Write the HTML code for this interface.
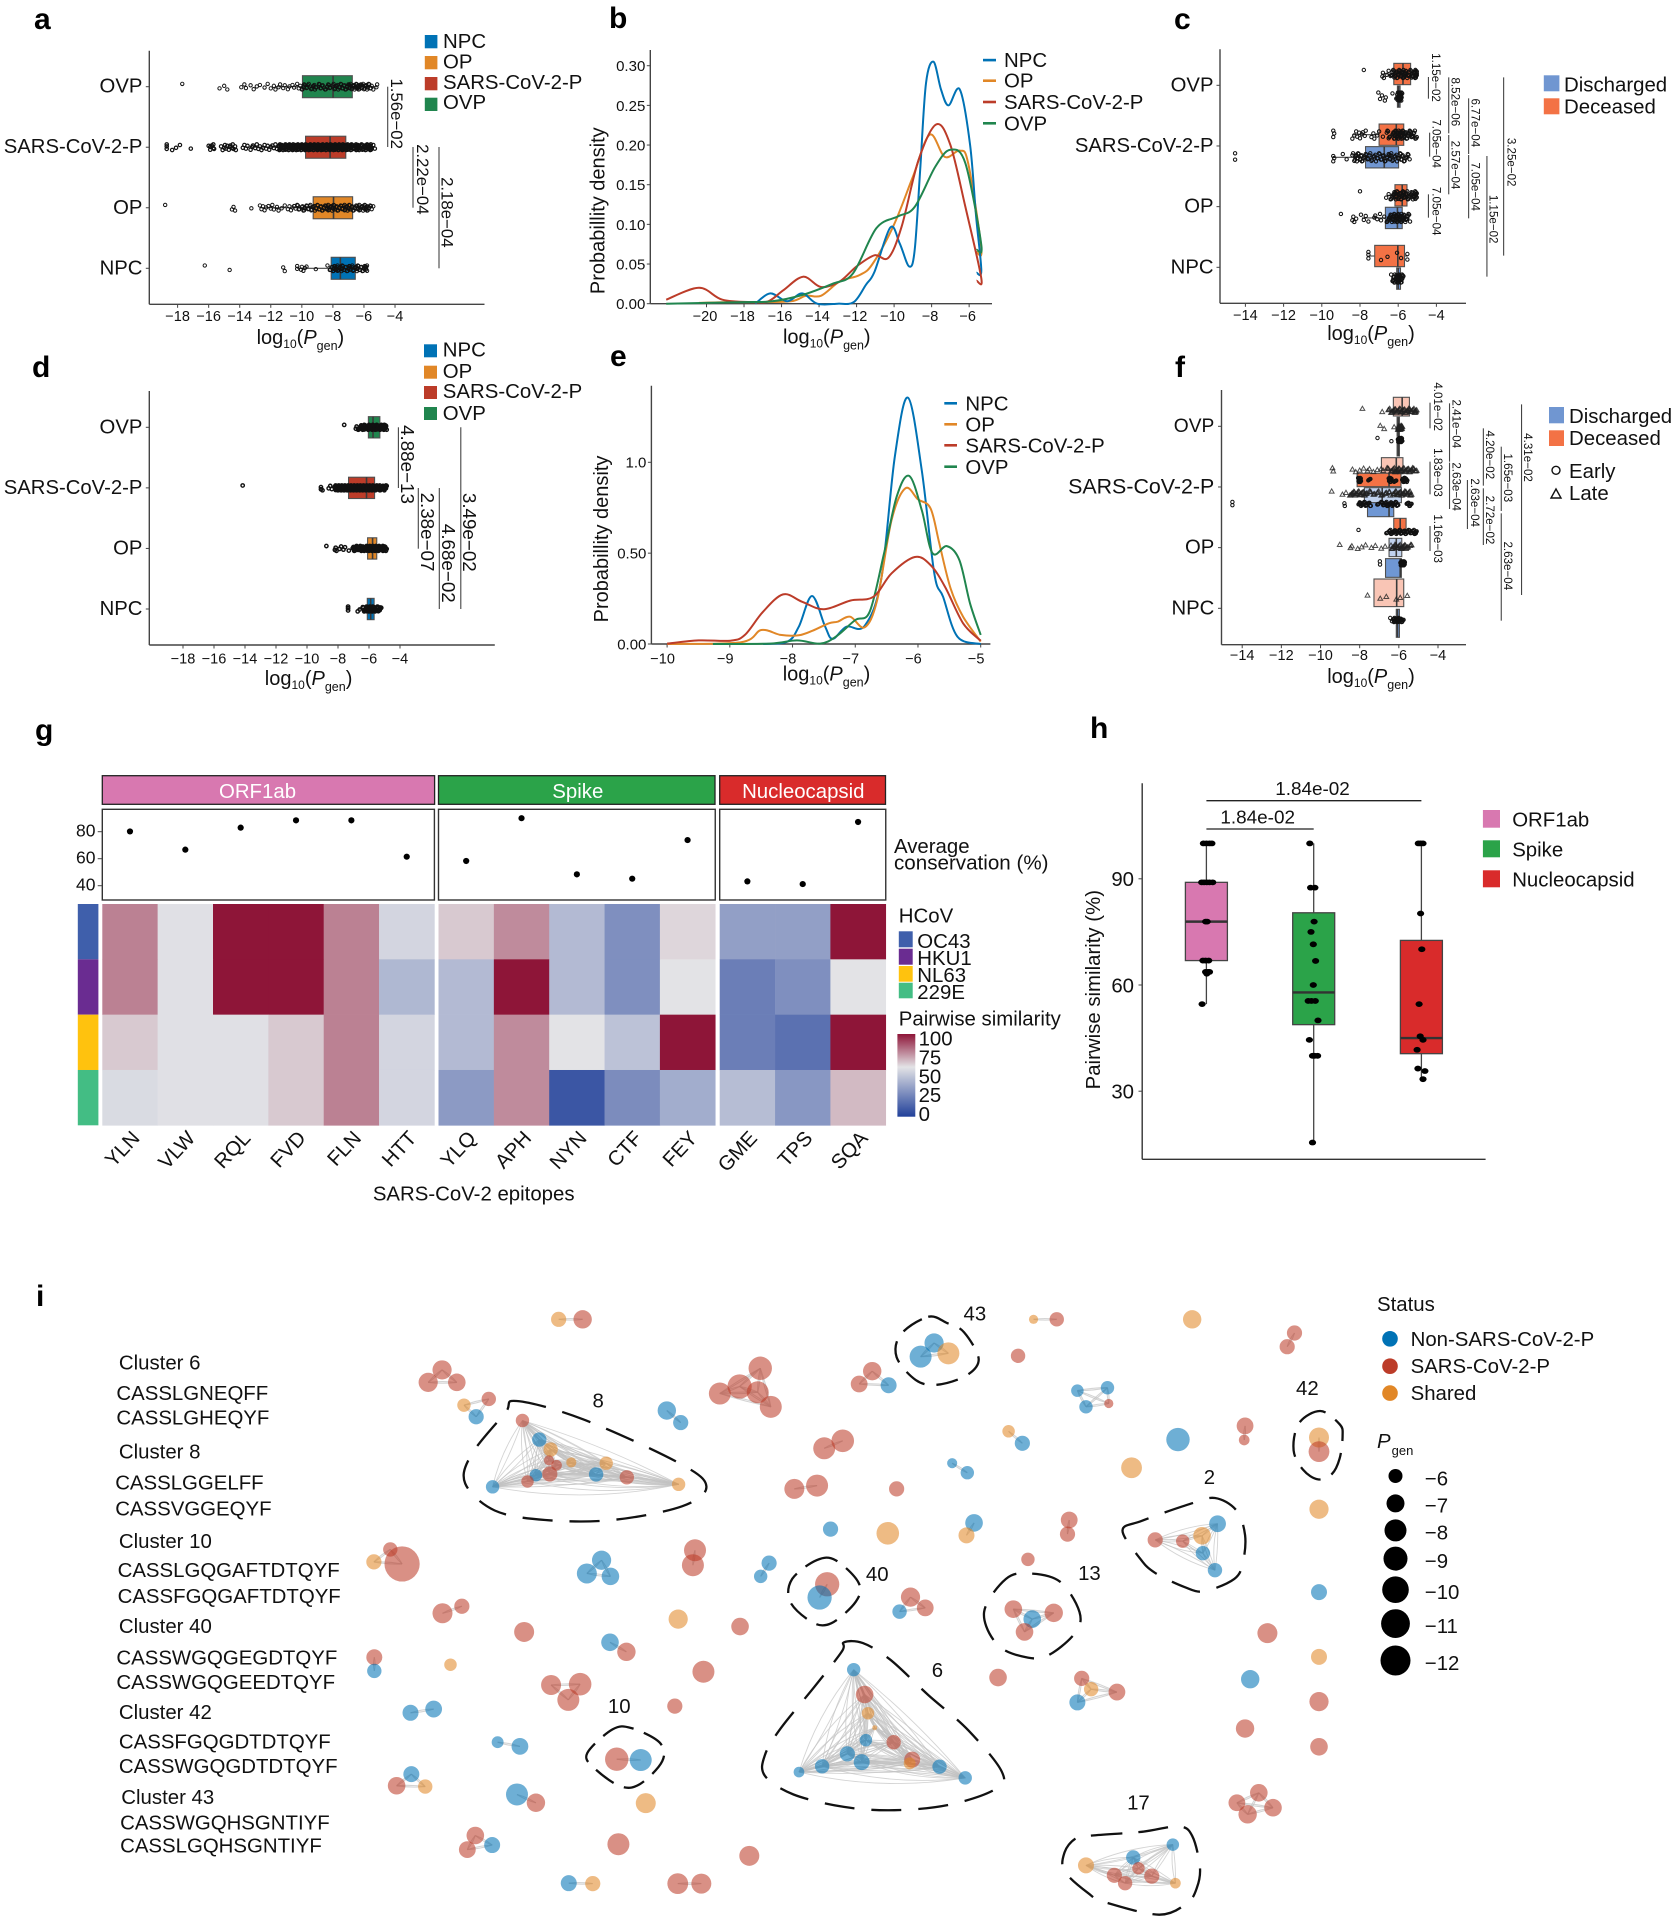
<!DOCTYPE html>
<html lang="en">
<head>
<meta charset="utf-8">
<title>TCR generation probability figure</title>
<style>
html,body{margin:0;padding:0;background:#fff}
svg{display:block}
text{font-family:"Liberation Sans",sans-serif;fill:#111}
.letter{font-size:30px;font-weight:bold;fill:#000}
.t20{font-size:20.4px}
.tt{font-size:20px}
.white{fill:#fff}
</style>
</head>
<body>
<svg id="fig" width="1674" height="1920" viewBox="0 0 1674 1920">
<rect x="0" y="0" width="1674" height="1920" fill="#fff"/>
<defs>
<linearGradient id="simGrad" x1="0" y1="1" x2="0" y2="0">
<stop offset="0" stop-color="#21409a"/><stop offset="0.6" stop-color="#e3e3e6"/><stop offset="1" stop-color="#8e1538"/>
</linearGradient>
</defs>

<text class="letter" x="34" y="29">a</text>
<text class="letter" x="609" y="28">b</text>
<text class="letter" x="1174" y="29">c</text>
<text class="letter" x="32" y="377">d</text>
<text class="letter" x="610" y="366">e</text>
<text class="letter" x="1175" y="377">f</text>
<text class="letter" x="35" y="740">g</text>
<text class="letter" x="1090" y="738">h</text>
<text class="letter" x="36" y="1306">i</text>

<!-- legend a -->
<g>
<rect x="424.8" y="35" width="12.6" height="13.3" fill="#0072b5"/>
<rect x="424.8" y="56" width="12.6" height="13.3" fill="#e18727"/>
<rect x="424.8" y="77" width="12.6" height="13.3" fill="#bc3c29"/>
<rect x="424.8" y="97.7" width="12.6" height="13.3" fill="#20854e"/>
<text class="t20" x="443" y="48">NPC</text>
<text class="t20" x="443" y="68.5">OP</text>
<text class="t20" x="443" y="89">SARS-CoV-2-P</text>
<text class="t20" x="443" y="109">OVP</text>
</g>
<text class="tt" x="300.4" y="344" text-anchor="middle">log<tspan font-size="12" dy="4">10</tspan><tspan dy="-4">(</tspan><tspan font-style="italic">P</tspan><tspan font-size="12.5" dy="6">gen</tspan><tspan dy="-6">)</tspan></text>

<!-- legend d -->
<g>
<rect x="424" y="344.3" width="13" height="13" fill="#0072b5"/>
<rect x="424" y="365.7" width="13" height="13" fill="#e18727"/>
<rect x="424" y="386" width="13" height="13" fill="#bc3c29"/>
<rect x="424" y="407" width="13" height="13" fill="#20854e"/>
<text class="t20" x="442.8" y="356.5">NPC</text>
<text class="t20" x="442.8" y="378">OP</text>
<text class="t20" x="442.8" y="398">SARS-CoV-2-P</text>
<text class="t20" x="442.8" y="420">OVP</text>
</g>
<text class="tt" x="308.6" y="685" text-anchor="middle">log<tspan font-size="12" dy="4">10</tspan><tspan dy="-4">(</tspan><tspan font-style="italic">P</tspan><tspan font-size="12.5" dy="6">gen</tspan><tspan dy="-6">)</tspan></text>

<!-- legend b -->
<g>
<rect x="983" y="58.8" width="13" height="2.6" fill="#0072b5"/>
<rect x="983" y="79.4" width="13" height="2.6" fill="#e18727"/>
<rect x="983" y="100.7" width="13" height="2.6" fill="#bc3c29"/>
<rect x="983" y="122" width="13" height="2.6" fill="#20854e"/>
<text class="t20" x="1004" y="67">NPC</text>
<text class="t20" x="1004" y="87.7">OP</text>
<text class="t20" x="1004" y="109">SARS-CoV-2-P</text>
<text class="t20" x="1004" y="130.3">OVP</text>
</g>
<text class="tt" transform="translate(604.5,210.7) rotate(-90)" text-anchor="middle">Probabillity density</text>
<text class="tt" x="826.8" y="343.3" text-anchor="middle">log<tspan font-size="12" dy="4">10</tspan><tspan dy="-4">(</tspan><tspan font-style="italic">P</tspan><tspan font-size="12.5" dy="6">gen</tspan><tspan dy="-6">)</tspan></text>

<!-- legend e -->
<g>
<rect x="944.3" y="402" width="12.7" height="2.6" fill="#0072b5"/>
<rect x="944.3" y="423" width="12.7" height="2.6" fill="#e18727"/>
<rect x="944.3" y="444" width="12.7" height="2.6" fill="#bc3c29"/>
<rect x="944.3" y="465.4" width="12.7" height="2.6" fill="#20854e"/>
<text class="t20" x="965.4" y="410.5">NPC</text>
<text class="t20" x="965.4" y="431.5">OP</text>
<text class="t20" x="965.4" y="452.5">SARS-CoV-2-P</text>
<text class="t20" x="965.4" y="474">OVP</text>
</g>
<text class="tt" transform="translate(608,539) rotate(-90)" text-anchor="middle">Probabillity density</text>
<text class="tt" x="826.5" y="680.7" text-anchor="middle">log<tspan font-size="12" dy="4">10</tspan><tspan dy="-4">(</tspan><tspan font-style="italic">P</tspan><tspan font-size="12.5" dy="6">gen</tspan><tspan dy="-6">)</tspan></text>

<!-- legend c -->
<g>
<rect x="1543.8" y="75.3" width="15.6" height="16" fill="#7096d1"/>
<rect x="1543.8" y="98.3" width="15.6" height="16" fill="#f37245"/>
<text class="t20" x="1564" y="91.5">Discharged</text>
<text class="t20" x="1564" y="113.7">Deceased</text>
</g>
<text class="tt" x="1371" y="340" text-anchor="middle">log<tspan font-size="12" dy="4">10</tspan><tspan dy="-4">(</tspan><tspan font-style="italic">P</tspan><tspan font-size="12.5" dy="6">gen</tspan><tspan dy="-6">)</tspan></text>

<!-- legend f -->
<g>
<rect x="1549" y="407" width="15" height="16.3" fill="#7096d1"/>
<rect x="1549" y="430.3" width="15" height="15.7" fill="#f37245"/>
<text class="t20" x="1569" y="423">Discharged</text>
<text class="t20" x="1569" y="445">Deceased</text>
<circle cx="1556" cy="470.3" r="4" fill="none" stroke="#111" stroke-width="1.4"/>
<polygon points="1556,489 1561,498 1551,498" fill="none" stroke="#111" stroke-width="1.4"/>
<text class="t20" x="1569" y="478">Early</text>
<text class="t20" x="1569" y="500">Late</text>
</g>
<text class="tt" x="1371" y="683" text-anchor="middle">log<tspan font-size="12" dy="4">10</tspan><tspan dy="-4">(</tspan><tspan font-style="italic">P</tspan><tspan font-size="12.5" dy="6">gen</tspan><tspan dy="-6">)</tspan></text>

<!-- panel g static -->
<g>
<rect x="102.3" y="775.7" width="332.3" height="28.6" fill="#d878b0" stroke="#222" stroke-width="1.3"/>
<rect x="438.5" y="775.7" width="276.5" height="28.6" fill="#2ba349" stroke="#222" stroke-width="1.3"/>
<rect x="719.7" y="775.7" width="165.8" height="28.6" fill="#d92b2b" stroke="#222" stroke-width="1.3"/>
<text class="t20 white" x="257.5" y="798" text-anchor="middle">ORF1ab</text>
<text class="t20 white" x="577.8" y="798" text-anchor="middle">Spike</text>
<text class="t20 white" x="803.3" y="798" text-anchor="middle">Nucleocapsid</text>
</g>
<text class="t20" x="894" y="853">Average</text>
<text class="t20" x="894" y="869.7" style="font-size:20.6px">conservation (%)</text>
<text class="t20" x="898.8" y="922.7">HCoV</text>
<g>
<rect x="898.8" y="931.3" width="13.9" height="16" fill="#3f5fab"/>
<rect x="898.8" y="948.7" width="13.9" height="16" fill="#6a2c91"/>
<rect x="898.8" y="966" width="13.9" height="15.7" fill="#ffc20e"/>
<rect x="898.8" y="982.7" width="13.9" height="15.6" fill="#43bd84"/>
<text class="t20" x="917.3" y="948">OC43</text>
<text class="t20" x="917.3" y="965">HKU1</text>
<text class="t20" x="917.3" y="982">NL63</text>
<text class="t20" x="917.3" y="999">229E</text>
</g>
<text class="t20" x="898.8" y="1025.3">Pairwise similarity</text>
<rect x="897.4" y="1034" width="17.9" height="82.7" fill="url(#simGrad)"/>
<g>
<text class="t20" x="918.6" y="1045.3">100</text>
<text class="t20" x="918.6" y="1064.7">75</text>
<text class="t20" x="918.6" y="1083.7">50</text>
<text class="t20" x="918.6" y="1102">25</text>
<text class="t20" x="918.6" y="1121">0</text>
</g>
<text class="t20" x="473.7" y="1200.3" text-anchor="middle">SARS-CoV-2 epitopes</text>

<!-- panel h static -->
<g>
<rect x="1482.9" y="810" width="17.1" height="17.7" fill="#d878b0"/>
<rect x="1482.9" y="840.3" width="17.1" height="17" fill="#2ba349"/>
<rect x="1482.9" y="870.3" width="17.1" height="17" fill="#d92b2b"/>
<text class="t20" x="1512.2" y="826.3">ORF1ab</text>
<text class="t20" x="1512.2" y="856.3">Spike</text>
<text class="t20" x="1512.2" y="886.3">Nucleocapsid</text>
</g>
<text class="t20" transform="translate(1100,989.7) rotate(-90)" text-anchor="middle">Pairwise similarity (%)</text>

<!-- panel i sequences -->
<g>
<text class="t20" x="118.9" y="1369.5">Cluster 6</text>
<text class="t20" x="116.4" y="1400.2">CASSLGNEQFF</text>
<text class="t20" x="116.4" y="1424.7">CASSLGHEQYF</text>
<text class="t20" x="118.9" y="1458.3">Cluster 8</text>
<text class="t20" x="115.2" y="1489.7">CASSLGGELFF</text>
<text class="t20" x="115.2" y="1515.4">CASSVGGEQYF</text>
<text class="t20" x="118.9" y="1547.8">Cluster 10</text>
<text class="t20" x="117.6" y="1577.2">CASSLGQGAFTDTQYF</text>
<text class="t20" x="117.6" y="1603">CASSFGQGAFTDTQYF</text>
<text class="t20" x="118.9" y="1633.1">Cluster 40</text>
<text class="t20" x="116.4" y="1664.3">CASSWGQGEGDTQYF</text>
<text class="t20" x="116.4" y="1688.8">CASSWGQGEEDTQYF</text>
<text class="t20" x="118.9" y="1719">Cluster 42</text>
<text class="t20" x="118.9" y="1748.4">CASSFGQGDTDTQYF</text>
<text class="t20" x="118.9" y="1773">CASSWGQGDTDTQYF</text>
<text class="t20" x="121.3" y="1804">Cluster 43</text>
<text class="t20" x="120.1" y="1829.3">CASSWGQHSGNTIYF</text>
<text class="t20" x="120.1" y="1852.6">CASSLGQHSGNTIYF</text>
</g>

<!-- panel i status legend -->
<g>
<text class="t20" x="1377" y="1311">Status</text>
<circle cx="1390" cy="1338.8" r="7.8" fill="#0072b5"/>
<circle cx="1390" cy="1366.2" r="7.8" fill="#bc3c29"/>
<circle cx="1390" cy="1393.1" r="7.8" fill="#e18727"/>
<text class="t20" x="1410.6" y="1345.8">Non-SARS-CoV-2-P</text>
<text class="t20" x="1410.6" y="1373.2">SARS-CoV-2-P</text>
<text class="t20" x="1410.6" y="1400.1">Shared</text>
<text class="t20" x="1377" y="1448"><tspan font-style="italic">P</tspan><tspan font-size="13" dx="1" dy="7">gen</tspan></text>
</g>

<script>
/* ---------- panel a data ---------- */
const stripCategories = ['OVP','SARS-CoV-2-P','OP','NPC'];
const wideTicks = [-18,-16,-14,-12,-10,-8,-6,-4];
const aQ1 = [-9.96,-9.76,-9.27,-8.11];
const aMedian = [-7.99,-8.18,-7.96,-7.52];
const aQ3 = [-6.75,-7.17,-6.73,-6.56];
const aLow = [-11.7,-13.6,-12.7,-10.3];
const aHigh = [-5.15,-5.3,-5.4,-5.8];
const aPValues = ['1.56e−02','2.22e−04','2.18e−04'];
const aOVP = [-17.7,-15.3,-15,-14.8,-13.9,-13.7,-13.6,-13.3,-13.1,-12.9,-12.7,-12.4,-12.2,-12,-11.8,-11.7,-11.5,-11.4,-11.2,-11.1,-10.9,-10.8,-10.6,-10.5,-10.3,-10.2,-10.1,-10,-9.9,-9.85,-9.7,-9.6,-9.4,-9.3,-9.2,-9.1,-8.9,-8.8,-8.7,-8.5,-8.4,-8.3,-8.2,-8,-7.9,-7.8,-7.7,-7.6,-7.5,-7.4,-7.3,-7.2,-7.1,-7,-6.95,-6.9,-6.8,-6.7,-6.65,-6.6,-6.5,-6.45,-6.4,-6.35,-6.3,-6.2,-6.15,-6.1,-6,-5.9,-5.85,-5.8,-5.7,-5.6,-5.5,-5.4,-5.2,-5.15];
const aSARS = [-18.7,-18.7,-18.7,-18.35,-18.1,-17.85,-17.15,-16,-15.9,-15.9,-15.8,-15.7,-15.7,-15.65,-15.2,-15.1,-15,-14.95,-14.9,-14.8,-14.7,-14.65,-14.6,-14.5,-14.45,-14.4,-14.3,-14.25,-13.8,-13.7,-13.6,-13.5,-13.3,-13.2,-13.15,-13,-12.9,-12.8,-12.7,-12.6,-12.5,-12.4,-12.3,-12.2,-12.1,-12,-11.9,-11.8,-11.7,-11.6,-11.5,-11.45,-11.4,-11.3,-11.2,-11.1,-11.05,-11,-10.9,-10.85,-10.8,-10.7,-10.65,-10.6,-10.5,-10.45,-10.4,-10.3,-10.25,-10.2,-10.1,-10.05,-10,-9.9,-9.85,-9.8,-9.7,-9.65,-9.6,-9.5,-9.45,-9.4,-9.3,-9.25,-9.2,-9.1,-9.05,-9,-8.9,-8.85,-8.8,-8.7,-8.65,-8.6,-8.5,-8.45,-8.4,-8.3,-8.25,-8.2,-8.1,-8.05,-8,-7.9,-7.85,-7.8,-7.7,-7.65,-7.6,-7.5,-7.45,-7.4,-7.3,-7.25,-7.2,-7.1,-7.05,-7,-6.9,-6.85,-6.8,-6.7,-6.6,-6.5,-6.45,-6.4,-6.3,-6.2,-6.1,-6,-5.95,-5.9,-5.8,-5.7,-5.65,-5.6,-5.5,-5.4,-5.3];
const aOP = [-18.8,-14.5,-14.4,-14.3,-13.25,-12.7,-12.6,-12.5,-12.4,-12.3,-12.15,-12,-11.9,-11.8,-11.6,-11.5,-11.3,-11.1,-10.9,-10.8,-10.7,-10.6,-10.5,-10.4,-10.3,-10.2,-10,-9.9,-9.85,-9.7,-9.6,-9.5,-9.4,-9.3,-9.2,-9.1,-9,-8.9,-8.8,-8.7,-8.6,-8.5,-8.4,-8.35,-8.3,-8.2,-8.1,-8,-7.95,-7.9,-7.8,-7.7,-7.6,-7.5,-7.4,-7.3,-7.25,-7.2,-7.1,-7,-6.95,-6.9,-6.8,-6.7,-6.6,-6.5,-6.4,-6.35,-6.3,-6.2,-6.1,-6,-5.95,-5.9,-5.85,-5.8,-5.7,-5.6,-5.5,-5.4];
const aNPC = [-16.25,-14.65,-11.2,-11.1,-10.3,-10.3,-10.05,-10,-9.9,-9.8,-9.7,-9.1,-8.35,-8.2,-8.1,-8,-7.95,-7.9,-7.8,-7.75,-7.7,-7.6,-7.5,-7.45,-7.4,-7.3,-7.2,-7.1,-7,-6.95,-6.9,-6.8,-6.7,-6.6,-6.5,-6.45,-6.4,-6.3,-6.2,-6.1,-6,-5.95,-5.9,-5.85,-5.8];

/* ---------- panel d data ---------- */
const dQ1 = [-6.04,-7.32,-6.09,-6.11];
const dMedian = [-5.74,-6.16,-5.77,-5.89];
const dQ3 = [-5.3,-5.64,-5.5,-5.67];
const dLow = [-6.85,-8.2,-7,-6.7];
const dHigh = [-4.93,-4.93,-4.93,-5.25];
const dPValues = ['4.88e−13','2.38e−07','4.68e−02','3.49e−02'];
const dOVP = [-7.6,-6.85,-6.8,-6.7,-6.6,-6.5,-6.4,-6.35,-6.3,-6.2,-6.1,-6.05,-6,-5.9,-5.85,-5.8,-5.75,-5.7,-5.6,-5.55,-5.5,-5.4,-5.35,-5.3,-5.2,-5.15,-5.1,-5.05,-5,-4.95];
const dSARS = [-14.15,-9.1,-9.1,-9,-8.6,-8.5,-8.4,-8.2,-8.15,-8.1,-8.05,-8,-7.95,-7.9,-7.85,-7.8,-7.75,-7.7,-7.65,-7.6,-7.55,-7.5,-7.45,-7.4,-7.35,-7.3,-7.25,-7.2,-7.15,-7.1,-7.05,-7,-6.95,-6.9,-6.85,-6.8,-6.75,-6.7,-6.65,-6.6,-6.55,-6.5,-6.45,-6.4,-6.35,-6.3,-6.25,-6.2,-6.15,-6.1,-6.05,-6,-5.95,-5.9,-5.85,-5.8,-5.75,-5.7,-5.65,-5.6,-5.5,-5.45,-5.4,-5.3,-5.2,-5.1,-5,-4.95];
const dOP = [-8.75,-8.2,-8.15,-8.1,-7.9,-7.8,-7.65,-7.55,-7.3,-7.05,-7,-6.95,-6.8,-6.7,-6.65,-6.5,-6.45,-6.4,-6.3,-6.2,-6.15,-6.1,-6.05,-6,-5.95,-5.9,-5.85,-5.8,-5.75,-5.7,-5.65,-5.6,-5.55,-5.5,-5.45,-5.4,-5.35,-5.3,-5.2,-5.1,-5.05,-5,-4.95];
const dNPC = [-7.35,-7.35,-7.35,-6.73,-6.6,-6.4,-6.3,-6.2,-6.15,-6.1,-6.05,-6,-5.95,-5.9,-5.85,-5.8,-5.75,-5.7,-5.6,-5.5,-5.4,-5.3,-5.25];

/* ---------- panel c data (deceased, discharged per category) ---------- */
const cTicks = [-14,-12,-10,-8,-6,-4];
const cDecQ1 = [-6.23,-7,-6.17,-7.23];
const cDecMedian = [-5.75,-6.1,-5.79,-6.02];
const cDecQ3 = [-5.35,-5.71,-5.54,-5.67];
const cDecLow = [-6.85,-8.4,-6.6,-7.56];
const cDecHigh = [-5.1,-5.1,-5.1,-5.5];
const cDisQ1 = [-6.04,-7.71,-6.67,-6.08];
const cDisMedian = [-5.98,-6.73,-6.04,-6];
const cDisQ3 = [-5.9,-5.98,-5.79,-5.88];
const cDisLow = [-6.1,-9.4,-7.9,-6.37];
const cDisHigh = [-5.9,-5.4,-5.4,-5.8];
const cPValues = ['1.15e−02','8.52e−06','6.77e−04','2.57e−04','7.05e−04','7.05e−04','7.05e−04','1.15e−02','3.25e−02'];
const cDecOVP = [-7.8,-6.83,-6.8,-6.75,-6.6,-6.5,-6.4,-6.3,-6.2,-6.15,-6.1,-6,-5.95,-5.9,-5.8,-5.75,-5.7,-5.6,-5.5,-5.4,-5.3,-5.2,-5.15,-5.1,-5.1,-5.1];
const cDisOVP = [-7.04,-6.95,-6.85,-6.7,-6.65,-6.3,-6.1,-6.05,-6.02,-6,-5.98,-5.96,-5.95,-5.93,-5.9];
const cDecSARS = [-9.4,-9.4,-9.35,-8.4,-8.3,-8.2,-8.15,-8.05,-8,-7.9,-7.85,-7.75,-7.7,-7.4,-7.3,-7.25,-7.1,-7,-6.8,-6.6,-6.5,-6.3,-6.25,-6.2,-6.15,-6.1,-6.05,-6,-5.95,-5.9,-5.85,-5.8,-5.75,-5.7,-5.6,-5.5,-5.4,-5.3,-5.2,-5.1];
const cDisSARS = [-14.54,-14.54,-9.4,-9.4,-9.35,-8.9,-8.7,-8.4,-8.3,-8.25,-8.2,-8.15,-8.1,-8,-7.95,-7.9,-7.8,-7.7,-7.6,-7.5,-7.4,-7.3,-7.2,-7.1,-7,-6.9,-6.8,-6.7,-6.6,-6.5,-6.45,-6.4,-6.3,-6.2,-6.1,-6,-5.9,-5.85,-5.8,-5.7,-5.6,-5.5,-5.4];
const cDecOP = [-8,-6.63,-6.5,-6.4,-6.3,-6.2,-6.15,-6.1,-6,-5.95,-5.9,-5.8,-5.75,-5.7,-5.6,-5.5,-5.4,-5.3,-5.2,-5.15,-5.1,-5.1];
const cDisOP = [-9,-8.4,-8.35,-8.3,-8.2,-7.95,-7.8,-7.7,-7.56,-7.25,-7.2,-7.1,-6.95,-6.9,-6.73,-6.6,-6.5,-6.4,-6.3,-6.25,-6.2,-6.15,-6.1,-6.05,-6,-5.95,-5.9,-5.85,-5.8,-5.7,-5.6,-5.5,-5.38];
const cDecNPC = [-7.56,-7.56,-7.56,-6.9,-6.56,-6.06,-5.85,-5.52,-5.52];
const cDisNPC = [-6.37,-6.3,-6.25,-6.2,-6.15,-6.1,-6.05,-6,-5.98,-5.95,-5.9,-5.85,-5.8];

/* ---------- panel f data ---------- */
const fQ1 = [-6.28,-6.09,-6.09,-6.89,-8.13,-7.76,-7.6,-6.26,-6.5,-6.68,-7.27,-6.13];
const fMedian = [-5.83,-6.03,-6.03,-6.13,-6.5,-6.85,-6.5,-5.93,-6.13,-5.93,-6.11,-6.07];
const fQ3 = [-5.46,-5.97,-5.97,-5.79,-5.89,-5.87,-6.26,-5.63,-5.85,-5.87,-5.75,-5.97];
const fPValues = ['4.01e−02','2.41e−04','2.63e−04','1.83e−03','1.16e−03','2.63e−04','4.20e−02','2.72e−02','1.65e−03','2.63e−04','4.31e−02'];
const fOVPDecLate = [-7.86,-6.85,-6.54,-6.4,-6.3,-6.2,-6.1,-6,-5.9,-5.8,-5.7,-5.6,-5.5,-5.4,-5.3,-5.2,-5.16];
const fOVPDisLate = [-6.95,-6.75,-6.24,-6.05,-6.03,-6.02,-6];
const fOVPDisEarly = [-7.09,-6.38,-6.05,-6.03,-6.02,-6];
const fSARSDecLate = [-9.39,-9.35,-8.37,-8.2,-8,-7.8,-7.6,-7.5,-7.3,-7.1,-6.9,-6.8,-6.6,-6.4,-6.3,-6.2,-6.1,-6,-5.9,-5.8,-5.7,-5.6,-5.5,-5.4,-5.3,-5.16];
const fSARSDecEarly = [-8.08,-8.06,-8.05,-8.04,-7.56,-6.52,-6.5,-6.48,-6.24,-5.83,-5.8,-5.75,-5.7,-5.67];
const fSARSDisLate = [-9.43,-8.88,-8.7,-8.5,-8.4,-8.3,-8.2,-8.1,-8,-7.9,-7.8,-7.7,-7.5,-7.3,-7.1,-6.9,-6.7,-6.5,-6.3,-6.2,-6.1,-6,-5.9,-5.8,-5.7,-5.6,-5.5,-5.42];
const fSARSDisEarly = [-14.5,-14.5,-8.78,-8.76,-8.06,-8,-7.9,-7.8,-7.7,-7.6,-7.5,-7.1,-6.9,-6.8,-6.7,-6.6,-6.5,-6.4,-6.3,-6.2,-6.1,-5.6,-5.5,-5.42];
const fOPDecEarly = [-8.06,-6.64,-6.5,-6.4,-6.3,-6.2,-6.1,-6,-5.9,-5.8,-5.7,-5.6,-5.5,-5.4,-5.3,-5.2,-5.16];
const fOPDisLate = [-9.02,-8.47,-8.4,-8.1,-7.9,-7.7,-7.4,-7.2,-6.9,-6.7,-6.4,-6.3,-6.2,-6.1,-6,-5.9,-5.8,-5.7,-5.6,-5.42];
const fOPDisEarly = [-6.97,-6.96,-5.92,-5.9,-5.89,-5.88,-5.87];
const fNPCDecLate = [-7.6,-6.95,-6.64,-6.13,-5.93,-5.57];
const fNPCDisEarly = [-6.44,-6.35,-6.3,-6.25,-6.2,-6.15,-6.1,-6.05,-6,-5.95,-5.9,-5.83];

/* ---------- panel b data ---------- */
const bXTicks = [-20,-18,-16,-14,-12,-10,-8,-6];
const bYTicks = [0,0.05,0.1,0.15,0.2,0.25,0.3];
const bNPCx = [-17.4,-16.6,-15.7,-14.9,-14.1,-13,-12.15,-11.5,-11.05,-10.2,-9.7,-9.2,-8.9,-8.6,-8.3,-7.9,-7.5,-7.1,-6.5,-5.95,-5.63,-5.35,-5.6];
const bNPCy = [0,0.013,0.003,0.013,0,0,0.002,0.024,0.04,0.096,0.076,0.047,0.068,0.173,0.278,0.305,0.27,0.25,0.27,0.2,0.11,0.042,0.039];
const bOPx = [-20.4,-18.8,-17.5,-15.5,-14.7,-13.9,-12.9,-11.85,-11.15,-10,-9,-8.1,-7.3,-6.5,-6.05,-5.35,-5.6];
const bOPy = [0.001,0.002,0.002,0.003,0.01,0.01,0.028,0.036,0.05,0.1,0.16,0.213,0.185,0.193,0.177,0.07,0.065];
const bSARSx = [-22.15,-20.4,-19.15,-17.5,-16.7,-15.9,-14.85,-13.9,-12.9,-12,-11.05,-10.3,-9.6,-8.7,-7.75,-7,-6.2,-5.35,-5.6];
const bSARSy = [0.005,0.02,0.005,0.002,0.003,0.017,0.034,0.021,0.028,0.047,0.061,0.058,0.097,0.181,0.226,0.2,0.122,0.032,0.029];
const bOVPx = [-22.15,-18,-16.5,-14.9,-13.3,-12.2,-10.95,-9.8,-8.9,-7.8,-7,-6.2,-5.35,-5.6];
const bOVPy = [0,0.002,0.003,0.011,0.025,0.038,0.095,0.11,0.122,0.173,0.194,0.177,0.074,0.068];

/* ---------- panel e data ---------- */
const eXTicks = [-10,-9,-8,-7,-6,-5];
const eYTicks = [0,0.5,1];
const eYLabels = ['0.00','0.50','1.0'];
const eNPCx = [-8.47,-8.08,-7.9,-7.69,-7.48,-7.36,-7.14,-6.85,-6.59,-6.37,-6.16,-5.94,-5.74,-5.6,-5.37,-5];
const eNPCy = [0,0.013,0.095,0.264,0.095,0.028,0.095,0.1,0.35,1.03,1.356,0.958,0.389,0.26,0.04,0];
const eOPx = [-10,-8.82,-8.5,-8.19,-7.9,-7.68,-7.42,-7.28,-7.08,-6.85,-6.65,-6.42,-6.2,-6,-5.8,-5.66,-5.48,-5.28,-5];
const eOPy = [0,0.01,0.077,0.05,0.048,0.073,0.114,0.123,0.15,0.092,0.242,0.683,0.857,0.796,0.747,0.554,0.306,0.15,0.013];
const eSARSx = [-10,-9.5,-8.99,-8.76,-8.47,-8.15,-7.85,-7.5,-7.08,-6.71,-6.42,-6.05,-5.8,-5.57,-5.28,-5];
const eSARSy = [0.002,0.02,0.018,0.05,0.178,0.273,0.233,0.191,0.239,0.26,0.389,0.479,0.435,0.316,0.114,0.018];
const eOVPx = [-9.27,-8.36,-7.93,-7.56,-7.31,-7,-6.77,-6.54,-6.34,-6.14,-5.94,-5.77,-5.54,-5.34,-5.17,-5];
const eOVPy = [0,0.002,0.02,0.002,0.04,0.132,0.178,0.5,0.811,0.925,0.738,0.5,0.539,0.462,0.224,0.05];

/* ---------- panel g data ---------- */
const epitopes = ['YLN','VLW','RQL','FVD','FLN','HTT','YLQ','APH','NYN','CTF','FEY','GME','TPS','SQA'];
const conservation = [80.2,66.7,83,88.4,88.4,61.5,58.3,90,48.4,45.2,73.8,43.2,41.2,87.2];
const conservationTicks = [80,60,40];
const heatOC43 = [79,59,100,100,79,55,65,77,45,29,62.5,35,35,100];
const heatHKU1 = [79,59,100,100,79,44,45,100,45,29,60,23,29,60];
const heatNL63 = [65,59,59,65,79,55,45,77,60,48,100,23,18,100];
const heat229E = [57,59,59,65,79,55,33,77,8,28,40,46,32,68];

/* ---------- panel h data ---------- */
const hTicks = [90,60,30];
const hQ1 = [66.9,48.8,40.6];
const hMedian = [77.9,57.9,45];
const hQ3 = [89,80.4,72.6];
const hLow = [54.6,15.5,33.4];
const hHigh = [100,100,100];
const hPValues = ['1.84e-02','1.84e-02'];
const hORFValues = [100,100,100,100,89,89,89,89,89,77.9,77.9,66.9,66.9,66.9,63.7,63.7,63.7,63.2,54.6];
const hORFJitter = [-3,0,3,5.5,-4.7,-2.3,0.4,3.1,6.3,-0.8,0.8,-3.5,-0.8,2.3,-0.8,1.6,3.1,0.4,-4.3];
const hSpikeValues = [100,87.5,87.5,77.9,75,71.5,66.8,60,55.5,55.5,55.5,50,44.5,40,40,40,15.5];
const hSpikeJitter = [-3.9,-3.1,1.2,0.4,-2.7,-0.4,1.9,-0.4,-5.5,-2.3,1.6,4.3,-4.3,-1.2,0.8,3.9,-1.2];
const hNucValues = [100,100,100,80.2,70.1,54.6,45.5,44.5,41.7,36.4,35.7,33.4];
const hNucJitter = [-3.1,-0.8,1.6,-0.8,0.4,-2.3,-1.2,1.6,-4.3,-3.5,3.5,1.6];

/* ---------- panel i data: [status, layout x, layout y, log10 Pgen] ---------- */
const pgenLegend = [-6,-7,-8,-9,-10,-11,-12];
const clusterLabels = ['8','43','40','6','10','42','2','13','17'];
const netLeft = [
 [['o',472,119,-6.3],['r',529,119,-7.1]],
 [['r',195,241,-7.3],['r',162,271,-7.3],['r',230,271,-6.9]],
 [['o',247,326,-5.8],['r',306,311,-6.1],['b',276,354,-6.3]],
 [['r',386,363,-5.8],['b',426,409,-6.1],['o',453,433,-6.1],['r',449,459,-4.7],['r',467,471,-4.9],['o',502,464,-4.7],['o',585,466,-5.8],['b',561,493,-6.1],['r',451,492,-6.3],['b',418,495,-5.5],['r',398,510,-5.5],['r',634,500,-6.1],['b',315,523,-5.8],['o',757,517,-5.8]],
 [['b',729,339,-7.1],['b',762,368,-6.3]],
 [['r',951,237,-8.7],['r',902,281,-9.1],['r',855,298,-8],['r',945,295,-8],['r',976,330,-8]],
 [['b',1364,176,-7.3],['b',1332,209,-8],['o',1398,201,-8]],
 [['r',1217,244,-7.1],['r',1186,275,-6.7],['b',1256,278,-6.5]],
 [['r',1147,412,-8.3],['r',1103,430,-8]],
 [['r',1032,528,-7.5],['r',1086,520,-8]],
 [['r',1275,528,-6.3]],
 [['b',1407,466,-4.7],['b',1443,489,-5.8]],
 [['b',1118,625,-6.3]],
 [['o',1254,635,-8.3]],
 [['b',1459,610,-6.9],['o',1441,640,-6.5]],
 [['r',72,674,-6.1],['o',33,704,-6.3],['r',100,709,-14]],
 [['b',574,700,-7.3],['b',539,732,-7.5],['b',595,739,-6.9]],
 [['r',796,676,-8],['r',791,712,-8]],
 [['b',972,707,-6.3],['b',952,739,-5.8]],
 [['r',1110,758,-9.1],['b',1092,790,-9.1]],
 [['r',1308,789,-7.3],['r',1343,815,-6.7],['b',1282,824,-6.1]],
 [['r',196,828,-7.5],['r',242,811,-6.3]],
 [['r',390,873,-7.5]],
 [['o',756,842,-7.3]],
 [['r',903,860,-6.9]],
 [['b',594,898,-6.9],['r',633,921,-7.1]],
 [['r',34,934,-6.5],['b',34,967,-6.1]],
 [['o',215,952,-5.5]],
 [['r',816,969,-8]],
 [['r',454,1001,-7.5],['r',523,999,-8.3],['r',495,1037,-8]],
 [['b',120,1068,-6.5],['b',175,1059,-6.7]],
 [['r',748,1052,-6.3]],
 [['r',1516,983,-6.9]],
 [['b',327,1139,-5.3],['b',380,1149,-6.7]],
 [['r',610,1180,-8.7],['b',667,1182,-8]],
 [['b',122,1216,-6.5],['r',87,1244,-6.9],['o',155,1246,-6.1]],
 [['b',1173,964,-5.8],['r',1199,1024,-6.9],['o',1207,1069,-5.5],['o',1223,1104,-3],['b',1202,1134,-5.5],['r',1268,1139,-6.1],['b',1158,1167,-6.3],['b',1192,1187,-6.5],['b',1098,1197,-6.1],['r',1312,1181,-6.5],['o',1306,1190,-5.3],['b',1377,1198,-6.1],['b',1043,1211,-4.9],['b',1438,1225,-5.8]],
 [['b',373,1265,-8],['r',418,1285,-7.1]],
 [['o',679,1286,-7.5]],
 [['r',274,1364,-6.9],['r',255,1398,-6.7],['b',314,1387,-6.5]],
 [['r',614,1385,-8]],
 [['r',925,1413,-7.5]],
 [['b',496,1479,-6.5],['o',553,1480,-6.3]],
 [['r',755,1480,-7.7],['r',811,1480,-7.5]]
];
const netRight = [
 [['o',78,119,-4.4],['r',132,119,-6.1]],
 [['o',447,119,-7.1]],
 [['r',685,152,-6.3],['r',668,185,-6.3]],
 [['r',42,207,-6.1]],
 [['b',180,291,-5.5],['b',250,284,-5.8],['b',200,330,-5.8],['r',253,322,-4.4]],
 [['o',20,389,-5.5],['b',52,418,-6.3]],
 [['b',414,409,-8.7]],
 [['r',570,376,-6.7],['r',568,410,-4.9]],
 [['o',742,404,-7.5],['r',742,438,-7.7]],
 [['o',306,477,-7.7]],
 [['o',742,577,-7.3]],
 [['r',161,603,-6.7],['r',157,637,-6.3]],
 [['b',506,612,-6.7],['o',470,641,-6.9],['r',361,651,-6.3],['r',425,654,-5.8],['b',472,683,-6.1],['b',500,724,-6.1]],
 [['r',65,698,-5.8]],
 [['b',742,777,-6.5]],
 [['r',31,818,-6.9],['r',125,827,-7.1],['b',75,842,-6.9],['r',57,873,-6.9]],
 [['r',622,876,-7.5]],
 [['o',742,933,-6.5]],
 [['r',190,985,-6.3],['o',212,1011,-6.1],['r',272,1018,-6.7],['b',180,1043,-6.5]],
 [['b',582,987,-7.1]],
 [['r',742,1041,-7.3]],
 [['r',570,1106,-7.1]],
 [['r',742,1150,-6.9]],
 [['r',602,1261,-6.9],['r',551,1285,-6.7],['r',635,1297,-6.9],['r',576,1313,-7.1]],
 [['b',402,1386,-5.5],['b',310,1417,-6.1],['o',200,1436,-6.5],['r',322,1443,-5.5],['r',353,1462,-6.3],['r',266,1460,-6.3],['r',291,1479,-6.1],['o',408,1479,-4.9]]
];

/* ---------- helpers ---------- */
const NS = 'http://www.w3.org/2000/svg';
const svg = document.getElementById('fig');
function mk(tag, attrs, parent, name) {
  const e = document.createElementNS(NS, tag);
  for (const k in attrs) e.setAttribute(k, attrs[k]);
  
  
  parent.appendChild(e);
  return e;
}
function group(name) { return mk('g', {}, svg, name); }
function lbl(str, x, y, size, anchor, parent, name, rot) {
  const attrs = {'font-size': size, 'text-anchor': anchor, dy: '.36em'};
  if (rot) { attrs.transform = 'translate(' + x + ',' + y + ') rotate(' + rot + ')'; }
  else { attrs.x = x; attrs.y = y; }
  const e = mk('text', attrs, parent, name);
  e.textContent = str;
  return e;
}
const fmt = v => String(v).replace('-', '−');
function line(x1, y1, x2, y2, stroke, w, parent, name) {
  return mk('line', {x1: x1, y1: y1, x2: x2, y2: y2, stroke: stroke, 'stroke-width': w}, parent, name);
}
function stripAxes(g, o) {
  const xs = v => o.x0 + (v - o.v0) * o.k;
  line(o.xAt, o.top, o.xAt, o.bot, '#444', 1.4, g, 'y-axis-line');
  line(o.xAt, o.bot, o.xEnd, o.bot, '#444', 1.4, g, 'x-axis-line');
  o.ticks.forEach(t => {
    line(xs(t), o.bot, xs(t), o.bot + 3.5, '#444', 1, g, 'x-tick');
    lbl(fmt(t), xs(t), o.tickY, 14.5, 'middle', g, 'x-tick-label');
  });
  stripCategories.forEach((c, i) => {
    const y = o.cat0 + i * o.catStep;
    line(o.xAt - 3.5, y, o.xAt, y, '#444', 1, g, 'y-tick');
    const size = o.catSizes ? o.catSizes[i] : 20.3;
    lbl(c, o.catRight, y - 1.3, size, 'end', g, 'category-label');
  });
  return xs;
}
function box(g, xs, q1, med, q3, lo, hi, yc, h, fill, name, whiskerColor) {
  const y = yc - h / 2;
  const wc = whiskerColor || '#444';
  line(xs(lo), yc, xs(q1), yc, wc, 1.1, g, name + '-whisker-low');
  line(xs(q3), yc, xs(hi), yc, wc, 1.1, g, name + '-whisker-high');
  mk('rect', {x: xs(q1), y: y, width: Math.max(xs(q3) - xs(q1), 0.5), height: h, fill: fill, stroke: '#505050', 'stroke-width': 1.1}, g, name + '-box');
  line(xs(med), y, xs(med), y + h, '#3a3a3a', 1.6, g, name + '-median');
}
const jit = [-1, 0.6, -0.3, 1, 0.2, -0.8, 0.5, -0.5, 0.9, -0.1, -0.6, 0.3];
function points(g, xs, vals, yc, spread, late, sw, op, name, dense) {
  vals.forEach((v, i) => {
    const passes = dense && v >= dense[0] && v <= dense[1] ? dense[2] : 1;
    for (let k = 0; k < passes; k++) {
      const px = xs(v) + k * 0.7, py = yc + jit[(i + k * 5) % jit.length] * spread;
      if (late) {
        mk('polygon', {points: px + ',' + (py - 2.4) + ' ' + (px + 2.4) + ',' + (py + 1.8) + ' ' + (px - 2.4) + ',' + (py + 1.8), fill: 'none', stroke: '#222', 'stroke-width': sw, 'stroke-opacity': op}, g, name);
      } else {
        mk('circle', {cx: px, cy: py, r: 1.7, fill: 'none', stroke: '#111', 'stroke-width': sw, 'stroke-opacity': op}, g, name);
      }
    }
  });
}
function bracket(g, x, y1, y2, text, lx, ly, size) {
  line(x, y1, x, y2, '#444', 1.1, g, 'significance-bracket');
  lbl(text, lx, ly, size, 'middle', g, 'p-value-label', 90);
}
function smooth(pts) {
  let d = 'M' + pts[0][0].toFixed(1) + ' ' + pts[0][1].toFixed(1);
  for (let i = 0; i < pts.length - 1; i++) {
    const p0 = pts[i - 1] || pts[i], p1 = pts[i], p2 = pts[i + 1], p3 = pts[i + 2] || p2;
    d += 'C' + (p1[0] + (p2[0] - p0[0]) / 6).toFixed(1) + ' ' + (p1[1] + (p2[1] - p0[1]) / 6).toFixed(1) + ' ' +
      (p2[0] - (p3[0] - p1[0]) / 6).toFixed(1) + ' ' + (p2[1] - (p3[1] - p1[1]) / 6).toFixed(1) + ' ' +
      p2[0].toFixed(1) + ' ' + p2[1].toFixed(1);
  }
  return d;
}
function closedSmooth(pts) {
  const n = pts.length;
  let d = 'M' + pts[0][0].toFixed(1) + ' ' + pts[0][1].toFixed(1);
  for (let i = 0; i < n; i++) {
    const p0 = pts[(i - 1 + n) % n], p1 = pts[i], p2 = pts[(i + 1) % n], p3 = pts[(i + 2) % n];
    d += 'C' + (p1[0] + (p2[0] - p0[0]) / 6).toFixed(1) + ' ' + (p1[1] + (p2[1] - p0[1]) / 6).toFixed(1) + ' ' +
      (p2[0] - (p3[0] - p1[0]) / 6).toFixed(1) + ' ' + (p2[1] - (p3[1] - p1[1]) / 6).toFixed(1) + ' ' +
      p2[0].toFixed(1) + ' ' + p2[1].toFixed(1);
  }
  return d + 'Z';
}
const groupColors = ['#20854e', '#bc3c29', '#e18727', '#0072b5'];

/* ---------- panel a ---------- */
(function () {
  const g = group('panel-a-boxplot');
  const o = {xAt: 149.3, top: 50.7, bot: 304.3, xEnd: 484.5, x0: 177.6, v0: -18, k: 15.53, ticks: wideTicks, tickY: 316, cat0: 86.7, catStep: 60.53, catRight: 142.4};
  const xs = stripAxes(g, o);
  const denseRanges = [[-10, -5.6, 2], [-11.5, -5.6, 3], [-10.3, -5.6, 2], [-8.3, -5.85, 2]];
  [aOVP, aSARS, aOP, aNPC].forEach((vals, i) => {
    const yc = o.cat0 + i * o.catStep;
    box(g, xs, aQ1[i], aMedian[i], aQ3[i], aLow[i], aHigh[i], yc, 22, groupColors[i], 'box-a');
    points(g, xs, vals, yc, 2.8, false, i === 1 ? 1.2 : 0.95, 1, 'strip-point-a', denseRanges[i]);
  });
  bracket(g, 387.7, 86.7, 147, aPValues[0], 396.9, 113.7, 16.8);
  bracket(g, 413, 147, 207.7, aPValues[1], 423, 179.3, 16.8);
  bracket(g, 439, 147, 268.3, aPValues[2], 447.8, 212.3, 16.8);
})();

/* ---------- panel d ---------- */
(function () {
  const g = group('panel-d-boxplot');
  const o = {xAt: 149.3, top: 391, bot: 645, xEnd: 494.8, x0: 183, v0: -18, k: 15.5, ticks: wideTicks, tickY: 658.3, cat0: 427.3, catStep: 60.57, catRight: 142.4};
  const xs = stripAxes(g, o);
  const denseRanges = [[-6.7, -4.9, 3], [-8.25, -4.9, 3], [-7.1, -4.9, 3], [-6.5, -5.3, 3]];
  [dOVP, dSARS, dOP, dNPC].forEach((vals, i) => {
    const yc = o.cat0 + i * o.catStep;
    box(g, xs, dQ1[i], dMedian[i], dQ3[i], dLow[i], dHigh[i], yc, 21.3, groupColors[i], 'box-d');
    points(g, xs, vals, yc, 2.4, false, 1.4, 1, 'strip-point-d', denseRanges[i]);
  });
  bracket(g, 398.4, 427.3, 488, dPValues[0], 407.6, 464.5, 18.8);
  bracket(g, 418.3, 488, 548.7, dPValues[1], 427.9, 532, 18.8);
  bracket(g, 439.3, 488, 609, dPValues[2], 448.9, 563.3, 18.8);
  bracket(g, 460.8, 427.3, 609, dPValues[3], 470, 532.3, 18.8);
})();

/* ---------- panel c ---------- */
(function () {
  const g = group('panel-c-boxplot');
  const o = {xAt: 1220, top: 49.3, bot: 303.3, xEnd: 1466, x0: 1245.4, v0: -14, k: 19.1, ticks: cTicks, tickY: 315, cat0: 85.3, catStep: 60.67, catRight: 1213.5};
  const xs = stripAxes(g, o);
  const dec = [cDecOVP, cDecSARS, cDecOP, cDecNPC], dis = [cDisOVP, cDisSARS, cDisOP, cDisNPC];
  const decDense = [[-6.4, -5.1, 3], [-6.6, -5.1, 3], [-6.4, -5.1, 3], [-5, -5, 1]];
  const disDense = [[-6.1, -5.9, 4], [-8.4, -5.5, 2], [-6.6, -5.5, 3], [-6.3, -5.8, 3]];
  stripCategories.forEach((c, i) => {
    const yc = o.cat0 + i * o.catStep;
    box(g, xs, cDecQ1[i], cDecMedian[i], cDecQ3[i], cDecLow[i], cDecHigh[i], yc - 11.3, 21.3, '#f37245', 'box-c-deceased');
    box(g, xs, cDisQ1[i], cDisMedian[i], cDisQ3[i], cDisLow[i], cDisHigh[i], yc + 11.3, 21.3, '#7096d1', 'box-c-discharged');
    points(g, xs, dec[i], yc - 11.3, 4, false, 1, 1, 'strip-point-c', decDense[i]);
    points(g, xs, dis[i], yc + 11.3, 4, false, 1, 1, 'strip-point-c', disDense[i]);
  });
  const cLayout = [[951,231,296,970,162,303],[1002,232,400,1020,233,378],[1052,295,462,1070,296,441],[1002,405,583,1020,423,567],[954,398,470,972,360,502],[1052,465,655,1070,488,632],[951,583,653,972,562,705],[1098,468,830,1115,587,728],[1140,232,767,1160,415,558]];
  const X = z => 1050 + z / 2.513;
  cPValues.forEach((p, i) => {
    const l = cLayout[i];
    bracket(g, X(l[0]), l[1] / 3, l[2] / 3, p, X(l[3]), (l[4] + l[5]) / 6, 11.6);
  });
})();

/* ---------- panel f ---------- */
(function () {
  const g = group('panel-f-boxplot');
  const o = {xAt: 1221.5, top: 390, bot: 644.7, xEnd: 1466, x0: 1242.2, v0: -14, k: 19.58, ticks: cTicks, tickY: 655, cat0: 426.3, catStep: 60.67, catRight: 1214.3, catSizes: [19.2, 21.4, 20.3, 20.3]};
  const xs = stripAxes(g, o);
  const catY = i => o.cat0 + i * o.catStep;
  const slots = [[0,-29,-10.3,'#f9c5b5'],[0,-9,9.7,'#c0d2ee'],[0,11,29.7,'#6f97d4'],[1,-29.3,-13.7,'#f9c5b5'],[1,-13.7,-0.3,'#f37245'],[1,0.7,15.7,'#c0d2ee'],[1,15.7,29.7,'#6f97d4'],[2,-29.3,-17,'#f37245'],[2,-9.3,9,'#c0d2ee'],[2,11,29.7,'#6f97d4'],[3,-29.3,-1.7,'#f9c5b5'],[3,1,29,'#6f97d4']];
  slots.forEach((s, i) => {
    const yc = catY(s[0]) + (s[1] + s[2]) / 2;
    box(g, xs, fQ1[i], fMedian[i], fQ3[i], fQ1[i], fQ3[i], yc, s[2] - s[1], s[3], 'box-f');
  });
  const rows = [[fOVPDecLate,0,-15.7,true,[-6.6,-5.1,3]],[fOVPDisLate,0,1.3,true,[-6.1,-5.9,6]],[fOVPDisEarly,0,13.7,false,[-6.1,-5.9,6]],[fSARSDecLate,1,-17,true,[-6.7,-5.1,3]],[fSARSDecEarly,1,-7,false,[-8.1,-5.6,4]],[fSARSDisLate,1,6.3,true,[-8.5,-5.4,3]],[fSARSDisEarly,1,17,false,[-8.1,-5.4,3]],[fOPDecEarly,2,-15.7,false,[-6.7,-5.1,3]],[fOPDisLate,2,-1,true,[-6.5,-5.4,3]],[fOPDisEarly,2,15.7,false,[-6,-5.8,6]],[fNPCDecLate,3,-11,true,[-5,-5,1]],[fNPCDisEarly,3,11.7,false,[-6.3,-5.8,3]]];
  rows.forEach(r => {
    points(g, xs, r[0], catY(r[1]) + r[2], 2, r[3], 1, r[3] ? 0.8 : 1, r[3] ? 'strip-triangle-f' : 'strip-point-f', r[4]);
  });
  const fLayout = [[955,128,205,975,68,212],[1004,130,305,1022,120,263],[1004,308,447,1022,308,452],[955,305,403,975,267,408],[955,498,573,975,465,607],[1049,360,507,1068,356,500],[1089,205,377,1106,212,357],[1089,385,555,1106,408,552],[1134,260,453,1152,282,425],[1134,460,782,1152,545,690],[1185,133,705,1202,220,365]];
  const X = z => 1050 + z / 2.513;
  const Y = z => 360 + z / 3;
  fPValues.forEach((p, i) => {
    const l = fLayout[i];
    bracket(g, X(l[0]), Y(l[1]), Y(l[2]), p, X(l[3]), Y((l[4] + l[5]) / 2), 11.6);
  });
})();

/* ---------- density panels ---------- */
function densityPanel(name, o, series) {
  const g = group(name);
  const xs = v => o.x0 + (v - o.v0) * o.kx;
  const ys = v => o.y0 - v * o.ky;
  line(o.xAt, o.top, o.xAt, o.y0, '#444', 1.4, g, 'y-axis-line');
  line(o.xAt, o.y0, o.xEnd, o.y0, '#444', 1.4, g, 'x-axis-line');
  o.xTicks.forEach(t => {
    line(xs(t), o.y0, xs(t), o.y0 + 3.5, '#444', 1, g, 'x-tick');
    lbl(fmt(t), xs(t) + o.labelDx, o.tickY, 14.5, 'middle', g, 'x-tick-label');
  });
  o.yTicks.forEach((t, i) => {
    line(o.xAt - 3.5, ys(t), o.xAt, ys(t), '#444', 1, g, 'y-tick');
    lbl(o.yLabels[i], o.xAt - 5, ys(t), 15, 'end', g, 'y-tick-label');
  });
  series.forEach(s => {
    const pts = s.x.map((v, i) => [xs(v), Math.min(ys(s.y[i]), o.y0)]);
    mk('path', {d: smooth(pts), fill: 'none', stroke: s.color, 'stroke-width': 2}, g, s.name);
  });
}
densityPanel('panel-b-density', {xAt: 650.3, top: 50, y0: 303.7, xEnd: 992, x0: 706.5, v0: -20, kx: 18.76, ky: 793.3, xTicks: bXTicks, yTicks: bYTicks, yLabels: bYTicks.map(v => v.toFixed(2)), tickY: 315.7, labelDx: -1.5}, [
  {x: bOPx, y: bOPy, color: '#e18727', name: 'density-line-op'},
  {x: bNPCx, y: bNPCy, color: '#0072b5', name: 'density-line-npc'},
  {x: bSARSx, y: bSARSy, color: '#bc3c29', name: 'density-line-sars'},
  {x: bOVPx, y: bOVPy, color: '#20854e', name: 'density-line-ovp'}
]);
densityPanel('panel-e-density', {xAt: 651.4, top: 385.7, y0: 644, xEnd: 990.4, x0: 667.1, v0: -10, kx: 62.72, ky: 181.7, xTicks: eXTicks, yTicks: eYTicks, yLabels: eYLabels, tickY: 658.3, labelDx: -4.5}, [
  {x: eNPCx, y: eNPCy, color: '#0072b5', name: 'density-line-npc'},
  {x: eOPx, y: eOPy, color: '#e18727', name: 'density-line-op'},
  {x: eOVPx, y: eOVPy, color: '#20854e', name: 'density-line-ovp'},
  {x: eSARSx, y: eSARSy, color: '#bc3c29', name: 'density-line-sars'}
]);

/* ---------- panel g ---------- */
(function () {
  const g = group('panel-g-heatmap');
  const facets = [[102.3, 6], [438.5, 5], [719.7, 3]];
  const cellW = 55.35, cellH = 55.33, heatTop = 904, dotTop = 809.3, dotBot = 900;
  const colX = [];
  facets.forEach(f => { for (let i = 0; i < f[1]; i++) colX.push(f[0] + i * cellW); });
  const yCons = v => 831.7 - (v - 80) * 1.35;
  const mix = (a, b, t) => a.map((c, i) => Math.round(c + (b[i] - c) * t));
  function simColor(v) {
    const low = [33, 64, 154], mid = [227, 227, 230], high = [142, 21, 56];
    const c = v <= 60 ? mix(low, mid, v / 60) : mix(mid, high, (v - 60) / 40);
    return 'rgb(' + c.join(',') + ')';
  }
  facets.forEach(f => {
    mk('rect', {x: f[0], y: dotTop, width: f[1] * cellW, height: dotBot - dotTop, fill: '#fff', stroke: '#333', 'stroke-width': 1.4}, g, 'conservation-panel');
  });
  conservationTicks.forEach(t => {
    line(97.7, yCons(t), 102.3, yCons(t), '#444', 1, g, 'conservation-tick');
    lbl(String(t), 95.5, yCons(t) - 1.5, 17.5, 'end', g, 'conservation-tick-label');
  });
  conservation.forEach((v, i) => {
    mk('circle', {cx: colX[i] + cellW / 2, cy: yCons(v), r: 3.1, fill: '#000'}, g, 'conservation-dot-' + epitopes[i].toLowerCase());
  });
  const rowsHeat = [heatOC43, heatHKU1, heatNL63, heat229E];
  const hcovColors = ['#3f5fab', '#6a2c91', '#ffc20e', '#43bd84'];
  rowsHeat.forEach((row, r) => {
    mk('rect', {x: 77.8, y: heatTop + r * cellH, width: 20.6, height: cellH, fill: hcovColors[r]}, g, 'hcov-annotation');
    row.forEach((v, c) => {
      mk('rect', {x: colX[c], y: heatTop + r * cellH, width: cellW + 0.3, height: cellH + 0.3, fill: simColor(v)}, g, 'heat-cell');
    });
  });
  epitopes.forEach((e, i) => {
    const x = colX[i] + cellW / 2 + 5.5;
    const t = mk('text', {'font-size': 20.4, 'text-anchor': 'end', transform: 'translate(' + x + ',1134) rotate(-47)', dy: '.36em'}, g, 'epitope-label');
    t.textContent = e;
  });
})();

/* ---------- panel h ---------- */
(function () {
  const g = group('panel-h-boxplot');
  const ys = v => 985 - (v - 60) * 3.54;
  const cx = [1206.4, 1313.7, 1421.4];
  const fills = ['#d878b0', '#2ba349', '#d92b2b'];
  line(1142.2, 783.3, 1142.2, 1159.3, '#333', 1.4, g, 'y-axis-line');
  line(1142.2, 1159.3, 1485.6, 1159.3, '#333', 1.4, g, 'x-axis-line');
  hTicks.forEach(t => {
    line(1138.5, ys(t), 1142.2, ys(t), '#444', 1, g, 'y-tick');
    lbl(String(t), 1134, ys(t), 20.4, 'end', g, 'y-tick-label');
  });
  const vals = [hORFValues, hSpikeValues, hNucValues], jits = [hORFJitter, hSpikeJitter, hNucJitter];
  cx.forEach((x, i) => {
    line(x, ys(hLow[i]), x, ys(hHigh[i]), '#444', 1.3, g, 'whisker-h');
    mk('rect', {x: x - 21, y: ys(hQ3[i]), width: 42, height: ys(hQ1[i]) - ys(hQ3[i]), fill: fills[i], stroke: '#444', 'stroke-width': 1.3}, g, 'box-h');
    line(x - 21, ys(hMedian[i]), x + 21, ys(hMedian[i]), '#333', 2.4, g, 'median-h');
    vals[i].forEach((v, j) => {
      mk('ellipse', {cx: x + jits[i][j], cy: ys(v), rx: 3.6, ry: 2.9, fill: '#000'}, g, 'similarity-point');
    });
  });
  line(1206.4, 800.7, 1421.4, 800.7, '#222', 1.3, g, 'significance-bracket');
  line(1206.4, 829, 1313.7, 829, '#222', 1.3, g, 'significance-bracket');
  lbl(hPValues[0], 1312.5, 788.3, 18.9, 'middle', g, 'p-value-label');
  lbl(hPValues[1], 1257.7, 816.7, 18.9, 'middle', g, 'p-value-label');
})();

/* ---------- panel i ---------- */
(function () {
  const g = group('panel-i-network');
  const statusColor = {b: '#0072b5', r: '#bc3c29', o: '#e18727'};
  const statusName = {b: 'non-sars-node', r: 'sars-node', o: 'shared-node'};
  const levels = [-3, -6, -7, -8, -9, -10, -11, -12, -14], radii = [2.5, 7, 9, 11, 12, 13.3, 14.4, 15, 17.6];
  function rScale(p) {
    for (let i = 0; i < levels.length - 1; i++) {
      if (p >= levels[i + 1]) return radii[i] + (radii[i + 1] - radii[i]) * (levels[i] - p) / (levels[i] - levels[i + 1]);
    }
    return radii[radii.length - 1];
  }
  const LX = x => 360 + x / 2.376, RX = x => 1000 + x / 2.326, NY = y => 1270 + y / 2.412;
  function drawGroups(groups, fx) {
    groups.forEach(nodes => {
      const big = nodes.length > 5;
      for (let a = 0; a < nodes.length; a++) {
        for (let b = a + 1; b < nodes.length; b++) {
          const x1 = fx(nodes[a][1]), y1 = NY(nodes[a][2]), x2 = fx(nodes[b][1]), y2 = NY(nodes[b][2]);
          const dx = x2 - x1, dy = y2 - y1, len = Math.hypot(dx, dy);
          const off = big ? [len * 0.1, -len * 0.05] : [1.6, -1.6];
          off.forEach(d => {
            const mx = (x1 + x2) / 2 - dy / len * d, my = (y1 + y2) / 2 + dx / len * d;
            mk('path', {d: 'M' + x1.toFixed(1) + ' ' + y1.toFixed(1) + 'Q' + mx.toFixed(1) + ' ' + my.toFixed(1) + ' ' + x2.toFixed(1) + ' ' + y2.toFixed(1), fill: 'none', stroke: '#c2c2c2', 'stroke-width': big ? 0.9 : 1.1, 'stroke-opacity': 0.7}, g, 'network-edge');
          });
        }
      }
    });
    groups.forEach(nodes => {
      nodes.forEach(n => {
        mk('circle', {cx: fx(n[1]), cy: NY(n[2]), r: rScale(n[3]), fill: statusColor[n[0]], 'fill-opacity': 0.57}, g, statusName[n[0]]);
      });
    });
  }
  drawGroups(netLeft, LX);
  drawGroups(netRight, RX);
  const hulls = [
    [LX, '30 17', [[372,316],[530,360],[757,465],[823,522],[765,570],[600,603],[440,603],[320,580],[250,515],[265,445],[345,345]]],
    [LX, '22 12', [[1350,113],[1395,128],[1435,150],[1470,215],[1440,255],[1370,277],[1320,265],[1275,210],[1285,155]]],
    [LX, '22 11', [[1085,700],[1130,700],[1185,755],[1178,800],[1120,852],[1075,850],[1022,800],[1027,745]]],
    [LX, '30 17', [[1150,898],[1195,900],[1260,940],[1350,1025],[1445,1110],[1525,1210],[1510,1252],[1400,1290],[1270,1303],[1150,1295],[1030,1265],[962,1220],[962,1170],[1000,1105],[1080,1005],[1145,920]]],
    [LX, '22 11', [[600,1108],[645,1105],[712,1140],[718,1185],[665,1240],[618,1245],[555,1200],[540,1165]]],
    [RX, '30 16', [[-37,825],[-5,905],[65,935],[115,928],[175,875],[185,825],[140,752],[70,732],[14,745]]],
    [RX, '30 17', [[285,628],[330,605],[440,565],[500,550],[550,580],[570,640],[565,705],[545,745],[475,775],[430,765],[360,730],[325,695]]],
    [RX, '24 12', [[745,340],[695,370],[683,435],[705,482],[740,505],[772,492],[790,455],[797,400],[790,372]]],
    [RX, '30 16', [[215,1364],[330,1355],[415,1342],[447,1365],[465,1440],[458,1490],[435,1527],[370,1555],[245,1525],[205,1503],[150,1450],[150,1405],[175,1372]]]
  ];
  hulls.forEach((h, i) => {
    const pts = h[2].map(p => [h[0](p[0]), NY(p[1])]);
    mk('path', {d: closedSmooth(pts), fill: 'none', stroke: '#111', 'stroke-width': 2.3, 'stroke-dasharray': h[1]}, g, 'cluster-hull-' + clusterLabels[i]);
  });
  const labelSpots = [[LX,566,314],[LX,1461,104],[LX,1229,732],[LX,1372,964],[LX,616,1051],[RX,715,284],[RX,487,499],[RX,208,730],[RX,322,1284]];
  clusterLabels.forEach((c, i) => {
    const s = labelSpots[i];
    lbl(c, s[0](s[1]), NY(s[2]), 20.4, 'middle', g, 'cluster-label-' + c);
  });
  const legendY = [1476, 1503.4, 1530.4, 1558.6, 1589.7, 1623.6, 1660.5];
  pgenLegend.forEach((p, i) => {
    mk('circle', {cx: 1395.5, cy: legendY[i], r: rScale(p), fill: '#000'}, g, 'pgen-legend-dot');
    lbl(fmt(p), 1424.8, legendY[i] + 2, 20.4, 'start', g, 'pgen-legend-label');
  });
})();
</script>
</svg>
</body>
</html>
